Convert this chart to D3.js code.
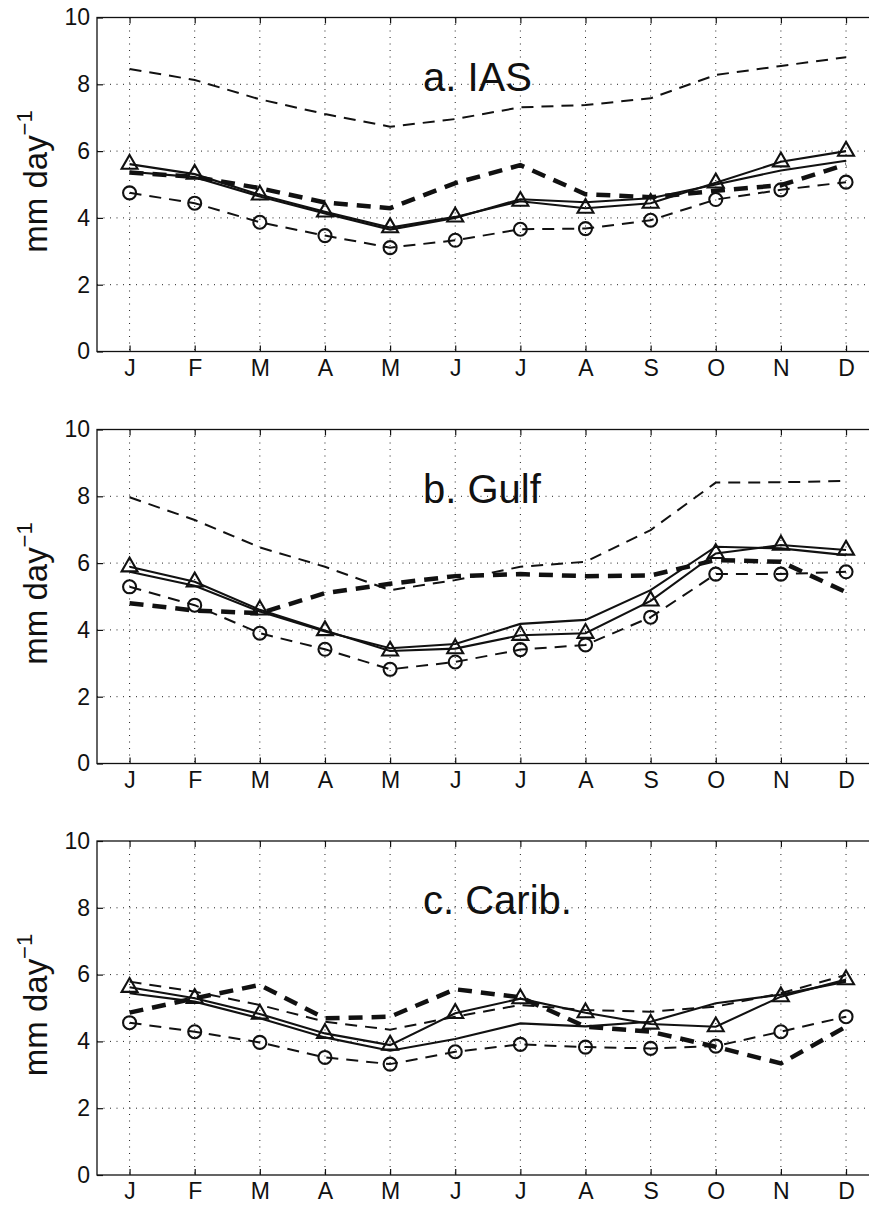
<!DOCTYPE html>
<html>
<head>
<meta charset="utf-8">
<script src="https://cdn.jsdelivr.net/npm/d3@7"></script>
<style>
  body { margin: 0; background: #fff; overflow: hidden; }
  svg { display: block; }
  text { font-family: "Liberation Sans", Arial, Helvetica, sans-serif; }
</style>
</head>
<body>
<svg id="chart"></svg>
<script>
const width = 869;
const height = 1205;

const months = ["J", "F", "M", "A", "M", "J", "J", "A", "S", "O", "N", "D"];
const yTicks = [0, 2, 4, 6, 8, 10];
const panelTitles = ["a. IAS", "b. Gulf", "c. Carib."];

// a. IAS
const iasThinDash  = [8.46, 8.13, 7.55, 7.11, 6.73, 6.96, 7.31, 7.38, 7.58, 8.28, 8.55, 8.81];
const iasThickDash = [5.36, 5.23, 4.89, 4.46, 4.29, 5.04, 5.58, 4.71, 4.62, 4.81, 4.98, 5.60];
const iasTriangle  = [5.61, 5.31, 4.69, 4.18, 3.71, 4.03, 4.50, 4.29, 4.44, 5.05, 5.68, 6.00];
const iasSolid     = [5.38, 5.22, 4.64, 4.13, 3.65, 4.00, 4.56, 4.47, 4.59, 5.00, 5.42, 5.71];
const iasCircle    = [4.75, 4.44, 3.87, 3.47, 3.11, 3.33, 3.66, 3.68, 3.93, 4.55, 4.84, 5.07];

// b. Gulf
const gulfThinDash  = [7.97, 7.29, 6.47, 5.89, 5.19, 5.49, 5.89, 6.04, 6.99, 8.41, 8.42, 8.46];
const gulfThickDash = [4.80, 4.58, 4.50, 5.10, 5.38, 5.61, 5.67, 5.61, 5.63, 6.09, 6.04, 5.13];
const gulfTriangle  = [5.89, 5.44, 4.60, 3.98, 3.37, 3.44, 3.84, 3.90, 4.87, 6.29, 6.54, 6.39];
const gulfSolid     = [5.74, 5.32, 4.55, 3.95, 3.45, 3.58, 4.18, 4.30, 5.19, 6.49, 6.44, 6.24];
const gulfCircle    = [5.29, 4.74, 3.90, 3.42, 2.82, 3.04, 3.41, 3.55, 4.38, 5.67, 5.67, 5.74];

// c. Carib.
const caribThinDash  = [5.79, 5.49, 5.09, 4.59, 4.35, 4.74, 5.09, 4.94, 4.89, 5.04, 5.44, 5.99];
const caribThickDash = [4.86, 5.29, 5.69, 4.69, 4.74, 5.56, 5.32, 4.44, 4.29, 3.84, 3.34, 4.44];
const caribTriangle  = [5.62, 5.29, 4.82, 4.24, 3.89, 4.84, 5.28, 4.86, 4.52, 4.44, 5.34, 5.85];
const caribSolid     = [5.44, 5.19, 4.69, 4.12, 3.72, 4.07, 4.54, 4.45, 4.59, 5.14, 5.40, 5.79];
const caribCircle    = [4.56, 4.29, 3.97, 3.52, 3.32, 3.69, 3.91, 3.83, 3.79, 3.86, 4.29, 4.74];

const panels = [
  { title: panelTitles[0], thin: iasThinDash, thick: iasThickDash, tri: iasTriangle, solid: iasSolid, circ: iasCircle },
  { title: panelTitles[1], thin: gulfThinDash, thick: gulfThickDash, tri: gulfTriangle, solid: gulfSolid, circ: gulfCircle },
  { title: panelTitles[2], thin: caribThinDash, thick: caribThickDash, tri: caribTriangle, solid: caribSolid, circ: caribCircle }
];

const plotLeft = 97;
const plotRight = 878.6;   // right border falls just outside the picture
const panelTops = [17.5, 429.5, 841];
const panelHeight = 334;
const ink = "#111";

const svg = d3.select("#chart")
    .attr("width", width)
    .attr("height", height)
    .style("overflow", "hidden");

svg.append("rect").attr("width", width).attr("height", height).attr("fill", "#fff");

const x = d3.scaleLinear().domain([0.5, 12.5]).range([plotLeft, plotRight]);
const monthIdx = d3.range(1, 13);

panels.forEach((p, k) => {
    const top = panelTops[k];
    const bottom = top + panelHeight;
    const y = d3.scaleLinear().domain([0, 10]).range([bottom, top]);
    const g = svg.append("g");

    // dotted grid
    g.append("g").selectAll("line")
        .data(monthIdx)
        .join("line")
        .attr("x1", d => x(d)).attr("x2", d => x(d))
        .attr("y1", top).attr("y2", bottom)
        .attr("stroke", "#222").attr("stroke-width", 1)
        .attr("stroke-dasharray", "1,5.5");

    g.append("g").selectAll("line")
        .data(yTicks.filter(t => t > 0 && t < 10))
        .join("line")
        .attr("x1", plotLeft).attr("x2", plotRight)
        .attr("y1", d => y(d)).attr("y2", d => y(d))
        .attr("stroke", "#222").attr("stroke-width", 1)
        .attr("stroke-dasharray", "1,5.5");

    // axes with inward ticks
    const xb = g.append("g")
        .attr("transform", `translate(0,${bottom})`)
        .call(d3.axisBottom(x).tickValues(monthIdx).tickFormat(i => months[i - 1])
            .tickSizeInner(-6).tickSizeOuter(0).tickPadding(8));
    const xt = g.append("g")
        .attr("transform", `translate(0,${top})`)
        .call(d3.axisTop(x).tickValues(monthIdx).tickFormat("")
            .tickSizeInner(-6).tickSizeOuter(0));
    const yl = g.append("g")
        .attr("transform", `translate(${plotLeft},0)`)
        .call(d3.axisLeft(y).tickValues(yTicks)
            .tickSizeInner(-6).tickSizeOuter(0).tickPadding(7));
    const yr = g.append("g")
        .attr("transform", `translate(${plotRight},0)`)
        .call(d3.axisRight(y).tickValues(yTicks).tickFormat("")
            .tickSizeInner(-6).tickSizeOuter(0));

    [xb, xt, yl, yr].forEach(a => {
        a.select(".domain").remove();
        a.attr("font-size", 23)
         .attr("font-family", '"Liberation Sans", Arial, Helvetica, sans-serif');
        a.selectAll("line").attr("stroke", ink).attr("stroke-width", 1.2);
        a.selectAll("text").attr("fill", ink);
    });

    // box
    g.append("rect")
        .attr("x", plotLeft).attr("y", top)
        .attr("width", plotRight - plotLeft).attr("height", panelHeight)
        .attr("fill", "none").attr("stroke", ink).attr("stroke-width", 1.3);

    const line = d3.line()
        .x((d, i) => x(i + 1))
        .y(d => y(d));

    g.append("path").datum(p.thin)
        .attr("d", line).attr("fill", "none")
        .attr("stroke", ink).attr("stroke-width", 2)
        .attr("stroke-dasharray", "12,8");

    g.append("path").datum(p.thick)
        .attr("d", line).attr("fill", "none")
        .attr("stroke", ink).attr("stroke-width", 4.5)
        .attr("stroke-dasharray", "14,9");

    g.append("path").datum(p.solid)
        .attr("d", line).attr("fill", "none")
        .attr("stroke", ink).attr("stroke-width", 2.1);

    g.append("path").datum(p.tri)
        .attr("d", line).attr("fill", "none")
        .attr("stroke", ink).attr("stroke-width", 2.1);

    g.append("path").datum(p.circ)
        .attr("d", line).attr("fill", "none")
        .attr("stroke", ink).attr("stroke-width", 2)
        .attr("stroke-dasharray", "12,8");

    const tri = d3.symbol(d3.symbolTriangle, 110);
    g.append("g").selectAll("path")
        .data(p.tri)
        .join("path")
        .attr("d", tri)
        .attr("transform", (d, i) => `translate(${x(i + 1)},${y(d)})`)
        .attr("fill", "none").attr("stroke", ink).attr("stroke-width", 2.1);

    g.append("g").selectAll("circle")
        .data(p.circ)
        .join("circle")
        .attr("cx", (d, i) => x(i + 1))
        .attr("cy", d => y(d))
        .attr("r", 6.5)
        .attr("fill", "none").attr("stroke", ink).attr("stroke-width", 2.1);

    // panel title
    g.append("text")
        .attr("x", 423).attr("y", top + 73)
        .attr("font-size", 40).attr("fill", ink)
        .text(p.title);

    // y label
    const lab = g.append("text")
        .attr("transform", `translate(47,${(top + bottom) / 2 - 3}) rotate(-90)`)
        .attr("text-anchor", "middle")
        .attr("font-size", 33).attr("fill", ink);
    lab.append("tspan").text("mm day");
    lab.append("tspan").attr("font-size", 22).attr("dy", -15).text("\u22121");
});
</script>
</body>
</html>
